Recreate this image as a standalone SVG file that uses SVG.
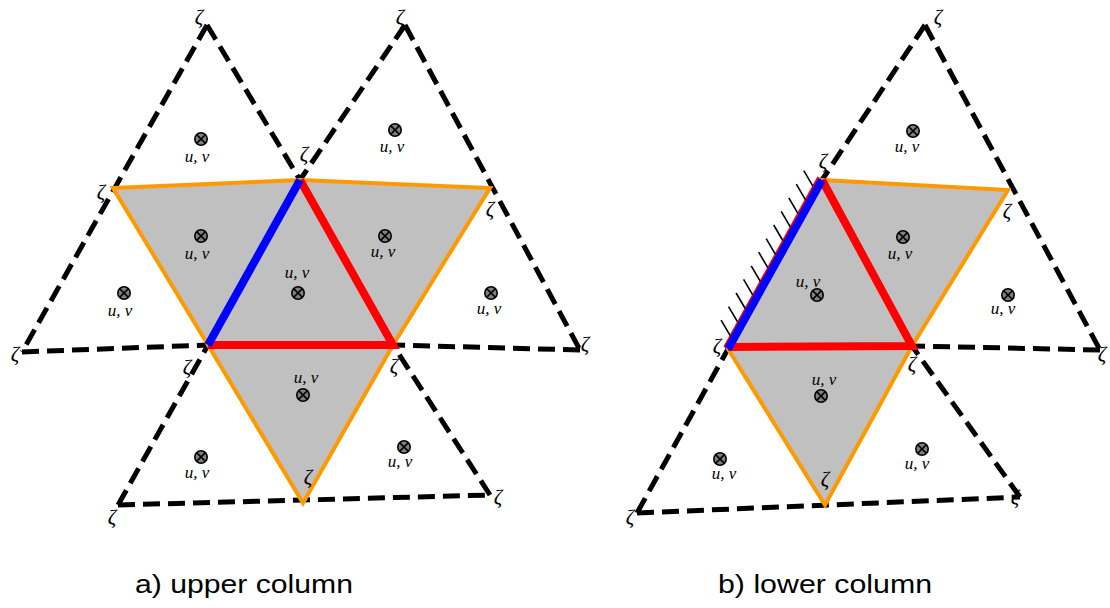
<svg xmlns="http://www.w3.org/2000/svg" xmlns:xlink="http://www.w3.org/1999/xlink" width="1110" height="608" viewBox="0 0 1110 608">
<style>
.d{fill:none;stroke:#000;stroke-width:5;stroke-dasharray:17,8}
.g{fill:#c0c0c0;stroke:#ff9900;stroke-width:4;stroke-linejoin:miter}
.r{fill:none;stroke:#ff0000;stroke-width:8;stroke-linejoin:miter}
.b{fill:none;stroke:#0000ff;stroke-width:8}
.h{stroke:#000;stroke-width:1.6}
.z{font-family:"Liberation Serif",serif;font-style:italic;font-size:21px;text-anchor:middle;fill:#000}
.uv{font-family:"Liberation Serif",serif;font-style:italic;font-size:17px;text-anchor:middle;fill:#000}
.cap{font-family:"Liberation Sans",Arial,sans-serif;font-size:26px;fill:#000}
</style>
<defs>
<g id="m">
<circle r="6.2" fill="#808080" stroke="#000" stroke-width="1.6"/>
<path d="M-4.4,-4.4L4.4,4.4M-4.4,4.4L4.4,-4.4" stroke="#000" stroke-width="1.5"/>
</g>
</defs>
<rect width="1110" height="608" fill="#fff"/>

<g id="connectors">
<path class="d" d="M207,25L22,352"/>
<path class="d" d="M207,25L300,180"/>
<path class="d" d="M22,352L208,345"/>
<path class="d" d="M405,25L300,180"/>
<path class="d" d="M405,25L580,350"/>
<path class="d" d="M580,350L393,345"/>
<path class="d" d="M118,505L208,345"/>
<path class="d" d="M118,505L490,495"/>
<path class="d" d="M490,495L393,345"/>
<path class="d" d="M925,25L822,180"/>
<path class="d" d="M925,25L1100,350"/>
<path class="d" d="M1100,350L912,346"/>
<path class="d" d="M637,513L728,349"/>
<path class="d" d="M637,513L1020,497"/>
<path class="d" d="M1020,497L912,346"/>
</g>

<g id="patch-a">
<polygon class="g" points="113,188 300,180 490,188 393,345 303,503 208,345"/>
<path class="r" d="M300,180L393,345L208,345"/>
<path class="b" d="M208,345L300,180"/>
</g>

<g id="patch-b">
<polygon class="g" points="822,180 1008,190 912,346 825,505 728,349"/>
<path class="r" d="M822,180L912,346L728,347"/>
<path d="M724.5,347.1L818.5,177.1" stroke="#ff0000" stroke-width="2.5" fill="none"/>
<path class="b" d="M728,349L822,180"/>
<g id="hatch">
<path class="h" d="M730.2,335.7L721.1,320.2M737.7,322.1L728.6,306.6M745.2,308.5L736.1,293M752.7,294.9L743.6,279.4M760.3,281.3L751.2,265.8M767.8,267.7L758.7,252.2M775.3,254.1L766.2,238.6M782.8,240.5L773.7,225M790.3,226.9L781.2,211.4M797.9,213.3L788.8,197.8M805.4,199.7L796.3,184.2M812.9,186.1L803.8,170.6"/>
</g>
</g>

<g id="markers-a">
<use xlink:href="#m" x="201" y="139"/><text class="uv" x="197" y="162">u, v</text>
<use xlink:href="#m" x="395" y="130"/><text class="uv" x="392" y="152">u, v</text>
<use xlink:href="#m" x="201" y="236"/><text class="uv" x="197" y="259">u, v</text>
<use xlink:href="#m" x="385" y="236"/><text class="uv" x="383" y="257">u, v</text>
<text class="uv" x="297" y="278">u, v</text><use xlink:href="#m" x="298" y="293"/>
<use xlink:href="#m" x="124" y="293"/><text class="uv" x="120" y="316">u, v</text>
<use xlink:href="#m" x="491" y="293"/><text class="uv" x="489" y="314">u, v</text>
<text class="uv" x="306" y="383">u, v</text><use xlink:href="#m" x="303" y="395"/>
<use xlink:href="#m" x="201" y="457"/><text class="uv" x="197" y="478">u, v</text>
<use xlink:href="#m" x="404" y="447"/><text class="uv" x="400" y="467">u, v</text>
</g>

<g id="markers-b">
<use xlink:href="#m" x="913" y="131"/><text class="uv" x="907" y="152">u, v</text>
<use xlink:href="#m" x="903" y="237"/><text class="uv" x="900" y="259">u, v</text>
<text class="uv" x="808" y="287">u, v</text><use xlink:href="#m" x="817" y="295"/>
<use xlink:href="#m" x="1008" y="295"/><text class="uv" x="1003" y="314">u, v</text>
<text class="uv" x="824" y="385">u, v</text><use xlink:href="#m" x="821" y="396"/>
<use xlink:href="#m" x="720" y="459"/><text class="uv" x="724" y="479">u, v</text>
<use xlink:href="#m" x="922" y="449"/><text class="uv" x="917" y="469">u, v</text>
</g>

<g id="zeta-a">
<text class="z" x="199" y="24">ζ</text>
<text class="z" x="400" y="24">ζ</text>
<text class="z" x="101" y="199">ζ</text>
<text class="z" x="304" y="161">ζ</text>
<text class="z" x="490" y="216">ζ</text>
<text class="z" x="15" y="361">ζ</text>
<text class="z" x="187" y="374">ζ</text>
<text class="z" x="394" y="373">ζ</text>
<text class="z" x="585" y="351">ζ</text>
<text class="z" x="308" y="484">ζ</text>
<text class="z" x="112" y="524">ζ</text>
<text class="z" x="498" y="504">ζ</text>
</g>

<g id="zeta-b">
<text class="z" x="938" y="24">ζ</text>
<text class="z" x="823" y="168">ζ</text>
<text class="z" x="1007" y="218">ζ</text>
<text class="z" x="717" y="353">ζ</text>
<text class="z" x="912" y="371">ζ</text>
<text class="z" x="1102" y="361">ζ</text>
<text class="z" x="825" y="486">ζ</text>
<text class="z" x="630" y="524">ζ</text>
<text class="z" x="1015" y="504">ζ</text>
</g>

<g id="captions">
<text class="cap" x="135" y="593" textLength="218" lengthAdjust="spacingAndGlyphs">a) upper column</text>
<text class="cap" x="718" y="593" textLength="214" lengthAdjust="spacingAndGlyphs">b) lower column</text>
</g>
</svg>
